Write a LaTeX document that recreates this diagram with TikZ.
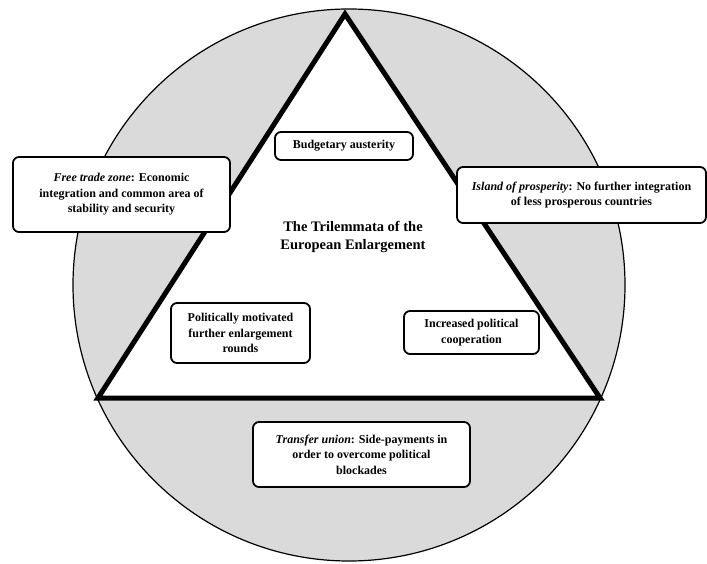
\documentclass[tikz,border=0pt]{standalone}
\usepackage{fontspec}
\setmainfont{Liberation Serif}
\begin{document}
\begin{tikzpicture}[x=1pt,y=-1pt,
  boxstyle/.style={draw=black,line width=1.8pt,fill=white,rounded corners=6pt,
    align=center,inner sep=0pt,font=\fontsize{12}{15.5}\selectfont\bfseries},
  ]
\useasboundingbox (0,0) rectangle (707,564);
\fill[fill={rgb,255:red,218;green,218;blue,218}] (349,285) circle (276);
\draw[line width=1.2pt] (349,285) circle (276);
\draw[line width=5pt,fill=white,line join=miter] (345,14) -- (600,398) -- (98,398) -- cycle;
\node[font=\fontsize{14.5}{18.5}\selectfont\bfseries,align=center] (title) at (353,237)
  {The Trilemmata of the\\European Enlargement};
\node[boxstyle,minimum width=217pt,minimum height=75pt] (free) at (121.5,194.5)
  {\textit{Free trade zone}: Economic\\integration and common area of\\stability and security};
\node[boxstyle,minimum width=249pt,minimum height=56pt] (island) at (581.5,195)
  {\textit{Island of prosperity}: No further integration\\of less prosperous countries};
\node[boxstyle,minimum width=217pt,minimum height=65pt] (transfer) at (361.5,454.5)
  {\textit{Transfer union}: Side-payments in\\order to overcome political\\blockades};
\node[boxstyle,minimum width=139pt,minimum height=60pt] (polit) at (240.5,333)
  {Politically motivated\\further enlargement\\rounds};
\node[boxstyle,minimum width=135pt,minimum height=43pt] (incr) at (471.5,332.5)
  {Increased political\\cooperation};
\node[boxstyle,minimum width=138pt,minimum height=28pt] (budget) at (344,146)
  {Budgetary austerity};
\end{tikzpicture}
\end{document}
